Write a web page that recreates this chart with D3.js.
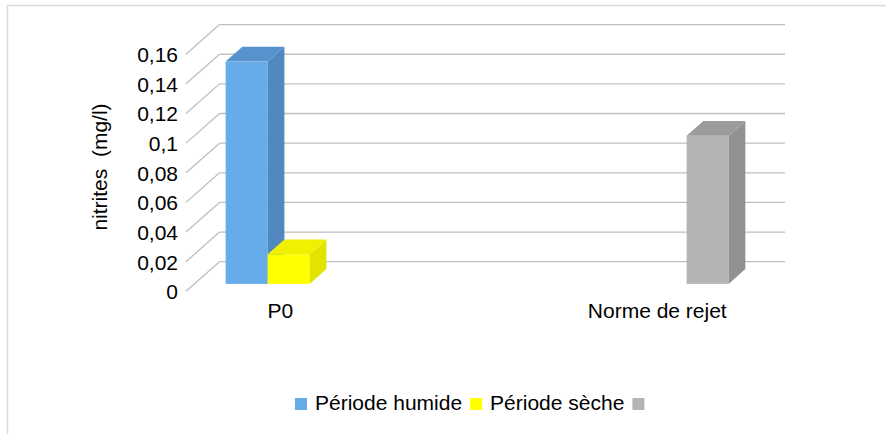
<!DOCTYPE html>
<html><head>
<meta charset="utf-8">
<script src="https://d3js.org/d3.v7.min.js"></script>
<style>
  body { margin: 0; background: #fff; }
  svg text { font-family: "Liberation Sans", Arial, sans-serif; fill: #000; }
</style>
</head>
<body>
<svg id="chart" width="886" height="434"></svg>
<script>

// data
const categories = ["P0", "Norme de rejet"];
const seriesNames = ["Période humide", "Période sèche", ""];
const humide = [0.15, null];
const seche = [0.02, null];
const norme = [null, 0.1];
const tickValues = [0, 0.02, 0.04, 0.06, 0.08, 0.1, 0.12, 0.14, 0.16];
const seriesColors = [
  {front: "#65ace8", top: "#5592ce", side: "#5088bf"},
  {front: "#ffff00", top: "#f0f000", side: "#e3e300"},
  {front: "#b4b4b4", top: "#9b9b9b", side: "#929292"}
];

const svg = d3.select("#chart");
const fontSize = 21;

// french number format (comma decimal)
const fr = d3.formatLocale({decimal: ",", thousands: " ", grouping: [3], currency: ["", " €"]});
const fmt = v => fr.format("~g")(v);

// 3d layout : front plane + depth vector
const depth = {dx: 33.5, dy: -29.6};
const frontLeft = 186, frontRight = 751.5;

const y = d3.scaleLinear().domain([0, 0.16]).range([291.3, 54.2]);
const x = d3.scalePoint().domain(categories).range([frontLeft, frontRight]).padding(0.25);
const xs = d3.scaleBand().domain(d3.range(seriesNames.length)).range([-63, 63]);

// chart border
svg.append("rect")
   .attr("x", 7.5).attr("y", 5.5)
   .attr("width", 900).attr("height", 450)
   .attr("fill", "none").attr("stroke", "#d9d9d9").attr("stroke-width", 1.5);

// back wall gridlines + diagonals on the side
const grid = svg.append("g");
grid.selectAll("line.h").data(tickValues)
    .join("line").attr("class", "h")
    .attr("x1", frontLeft + depth.dx).attr("x2", frontRight + depth.dx)
    .attr("y1", d => y(d) + depth.dy).attr("y2", d => y(d) + depth.dy)
    .attr("stroke", "#bfbfbf").attr("stroke-width", 1.3);
grid.selectAll("line.d").data(tickValues)
    .join("line").attr("class", "d")
    .attr("x1", frontLeft).attr("x2", frontLeft + depth.dx)
    .attr("y1", d => y(d)).attr("y2", d => y(d) + depth.dy)
    .attr("stroke", "#bfbfbf").attr("stroke-width", 1.3);

// y axis labels
const yAxis = svg.append("g")
   .attr("transform", "translate(" + frontLeft + ",0)")
   .call(d3.axisLeft(y).tickValues(tickValues).tickFormat(fmt).tickSize(0).tickPadding(8));
yAxis.select(".domain").remove();
yAxis.selectAll("text").attr("font-size", fontSize).attr("dy", "0.35em")
     .style("font-family", "Liberation Sans, Arial, sans-serif");

// y axis title
svg.append("text")
   .attr("transform", "translate(107,167) rotate(-90)")
   .attr("text-anchor", "middle")
   .attr("font-size", fontSize)
   .style("white-space", "pre")
   .text("nitrites  (mg/l)");

// x category labels
svg.append("g").selectAll("text").data(categories)
   .join("text")
   .attr("x", d => x(d)).attr("y", 317.5)
   .attr("text-anchor", "middle")
   .attr("font-size", fontSize)
   .text(d => d);

// bars : sit at a quarter of the depth, half as deep as the floor
const bars = [];
[humide, seche, norme].forEach((vals, s) => {
  vals.forEach((v, i) => {
    if (v != null) bars.push({s: s, cat: categories[i], value: v});
  });
});

const off = {dx: depth.dx * 0.25, dy: depth.dy * 0.25};
const bd = {dx: depth.dx * 0.5, dy: depth.dy * 0.5};

const barLayer = svg.append("g");
const barG = barLayer.selectAll("g").data(bars).join("g");

function geo(d) {
  const x0 = x(d.cat) + off.dx + xs(d.s);
  const x1 = x0 + xs.bandwidth();
  const yb = y(0) + off.dy;
  const yt = y(d.value) + off.dy;
  return {x0, x1, yb, yt};
}

barG.append("rect")
    .attr("x", d => geo(d).x0)
    .attr("y", d => geo(d).yt)
    .attr("width", xs.bandwidth())
    .attr("height", d => geo(d).yb - geo(d).yt)
    .attr("fill", d => seriesColors[d.s].front);

barG.append("polygon")
    .attr("points", d => {
      const g = geo(d);
      return [[g.x1, g.yt], [g.x1 + bd.dx, g.yt + bd.dy], [g.x1 + bd.dx, g.yb + bd.dy], [g.x1, g.yb]].join(" ");
    })
    .attr("fill", d => seriesColors[d.s].side);

barG.append("polygon")
    .attr("points", d => {
      const g = geo(d);
      return [[g.x0, g.yt], [g.x0 + bd.dx, g.yt + bd.dy], [g.x1 + bd.dx, g.yt + bd.dy], [g.x1, g.yt]].join(" ");
    })
    .attr("fill", d => seriesColors[d.s].top);

// legend
const legend = svg.append("g");
let lx = 295;
seriesNames.forEach((name, s) => {
  legend.append("rect")
        .attr("x", lx).attr("y", 398)
        .attr("width", 12).attr("height", 12)
        .attr("fill", seriesColors[s].front);
  const t = legend.append("text")
        .attr("x", lx + 20).attr("y", 409.5)
        .attr("font-size", fontSize)
        .text(name);
  lx += 20 + t.node().getComputedTextLength() + 8;
});

</script>
</body>
</html>
